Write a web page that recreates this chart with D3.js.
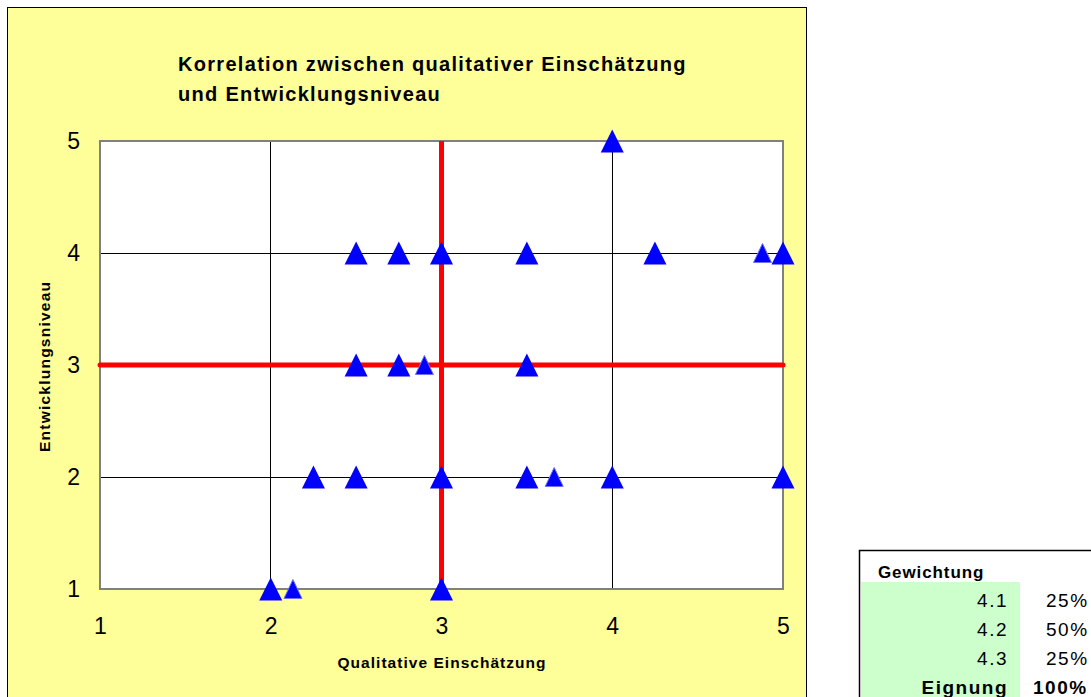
<!DOCTYPE html>
<html>
<head>
<meta charset="utf-8">
<script src="https://cdn.jsdelivr.net/npm/d3@7"></script>
<style>
  body { margin: 0; background: #fff; }
  svg { display: block; font-family: "Liberation Sans", Arial, sans-serif; }
</style>
</head>
<body>
<svg width="1091" height="697"></svg>
<script>
const svg = d3.select("svg");

// Data
const titleLines = ["Korrelation zwischen qualitativer Einschätzung", "und Entwicklungsniveau"];
const xLabel = "Qualitative Einschätzung";
const yLabel = "Entwicklungsniveau";
const ticks = [1, 2, 3, 4, 5];

// main series (big markers)
const qualX = [4, 2.5, 2.75, 3, 3.5, 4.25, 5, 2.5, 2.75, 3.5, 2.25, 2.5, 3, 3.5, 4, 5, 2, 3];
const levelY = [5, 4, 4, 4, 4, 4, 4, 3, 3, 3, 2, 2, 2, 2, 2, 2, 1, 1];
// second series (small markers)
const qualX2 = [4.88, 2.9, 3.66, 2.13];
const levelY2 = [4, 3, 2, 1];

// reference lines (averages)
const refX = 3;
const refY = 3;

// table
const weightRows = ["4.1", "4.2", "4.3"];
const weightVals = ["25%", "50%", "25%"];
const totalLabel = "Eignung";
const totalVal = "100%";

// Chart frame
svg.append("rect")
  .attr("x", 7.5).attr("y", 7.5)
  .attr("width", 799).attr("height", 700)
  .attr("fill", "#ffff99")
  .attr("stroke", "#000").attr("stroke-width", 1);

const x = d3.scaleLinear().domain([1, 5]).range([100, 783]);
const y = d3.scaleLinear().domain([1, 5]).range([589, 141]);

// plot area
svg.append("rect")
  .attr("x", x(1)).attr("y", y(5))
  .attr("width", x(5) - x(1)).attr("height", y(1) - y(5))
  .attr("fill", "#fff");

// gridlines
svg.append("g")
  .attr("shape-rendering", "crispEdges")
  .selectAll("line")
  .data(ticks.slice(1, -1))
  .join("line")
  .attr("x1", d => x(d)).attr("x2", d => x(d))
  .attr("y1", y(5)).attr("y2", y(1))
  .attr("stroke", "#000").attr("stroke-width", 1);

svg.append("g")
  .attr("shape-rendering", "crispEdges")
  .selectAll("line")
  .data(ticks.slice(1, -1))
  .join("line")
  .attr("x1", x(1)).attr("x2", x(5))
  .attr("y1", d => y(d)).attr("y2", d => y(d))
  .attr("stroke", "#000").attr("stroke-width", 1);

// plot border
svg.append("rect")
  .attr("x", x(1)).attr("y", y(5))
  .attr("width", x(5) - x(1)).attr("height", y(1) - y(5))
  .attr("fill", "none")
  .attr("stroke", "#808080").attr("stroke-width", 2);

// red reference lines
svg.append("line")
  .attr("x1", x(refX)).attr("x2", x(refX))
  .attr("y1", y(5)).attr("y2", y(1))
  .attr("stroke", "#ff0000").attr("stroke-width", 5);
svg.append("line")
  .attr("x1", x(1)).attr("x2", x(5))
  .attr("y1", y(refY)).attr("y2", y(refY))
  .attr("stroke", "#ff0000").attr("stroke-width", 5)
  .attr("stroke-linecap", "round");

// axes (labels only)
const xAxis = svg.append("g")
  .attr("transform", `translate(0,${y(1)})`)
  .call(d3.axisBottom(x).tickValues(ticks).tickFormat(d3.format("d")).tickSize(0).tickPadding(29));
xAxis.select(".domain").remove();
xAxis.selectAll("text").attr("font-size", 23).attr("fill", "#000")
  .attr("font-family", "Liberation Sans, Arial, sans-serif");

const yAxis = svg.append("g")
  .attr("transform", `translate(${x(1)},0)`)
  .call(d3.axisLeft(y).tickValues(ticks).tickFormat(d3.format("d")).tickSize(0).tickPadding(20));
yAxis.select(".domain").remove();
yAxis.selectAll("text").attr("font-size", 23).attr("fill", "#000")
  .attr("font-family", "Liberation Sans, Arial, sans-serif");

// markers: triangle a bit taller than equilateral
function triangle(w, h) {
  return {
    draw(ctx) {
      ctx.moveTo(0, -h / 2);
      ctx.lineTo(w / 2, h / 2);
      ctx.lineTo(-w / 2, h / 2);
      ctx.closePath();
    }
  };
}
const pts = qualX.map((v, i) => ({ x: v, y: levelY[i] }));
const pts2 = qualX2.map((v, i) => ({ x: v, y: levelY2[i] }));

svg.append("g")
  .selectAll("path")
  .data(pts)
  .join("path")
  .attr("d", d3.symbol(triangle(23, 23))())
  .attr("transform", d => `translate(${x(d.x)},${y(d.y)})`)
  .attr("fill", "#0000ff");

svg.append("g")
  .selectAll("path")
  .data(pts2)
  .join("path")
  .attr("d", d3.symbol(triangle(18, 19))())
  .attr("transform", d => `translate(${x(d.x)},${y(d.y)})`)
  .attr("fill", "#0000ff")
  .attr("stroke", "#7070ff").attr("stroke-width", 1);

// title
svg.append("text")
  .attr("font-size", 20).attr("font-weight", "bold")
  .selectAll("tspan")
  .data(titleLines)
  .join("tspan")
  .attr("x", 178)
  .attr("y", (d, i) => 71 + i * 30)
  .attr("letter-spacing", 1.3)
  .text(d => d);

// axis titles
svg.append("text")
  .attr("x", (x(1) + x(5)) / 2).attr("y", 668)
  .attr("text-anchor", "middle")
  .attr("font-size", 15.5).attr("font-weight", "bold")
  .attr("textLength", 208)
  .text(xLabel);

svg.append("text")
  .attr("transform", `translate(50,${(y(1) + y(5)) / 2 + 2}) rotate(-90)`)
  .attr("text-anchor", "middle")
  .attr("font-size", 15.5).attr("font-weight", "bold")
  .attr("textLength", 170)
  .text(yLabel);

// table
const rowY = d3.scaleBand().domain(d3.range(weightRows.length + 1)).range([582, 698]);
const table = svg.append("g");
table.append("rect")
  .attr("x", 859.5).attr("y", 550.5)
  .attr("width", 300).attr("height", 200)
  .attr("fill", "#fff").attr("stroke", "#000").attr("stroke-width", 1.5);
table.append("rect")
  .attr("x", 861).attr("y", 582)
  .attr("width", 159).attr("height", 120)
  .attr("fill", "#ccffcc");
table.append("text")
  .attr("x", 878).attr("y", 578)
  .attr("font-size", 17).attr("font-weight", "bold")
  .attr("letter-spacing", 0.9)
  .text("Gewichtung");

const rows = weightRows.map((r, i) => ({ label: r, val: weightVals[i], bold: false }))
  .concat([{ label: totalLabel, val: totalVal, bold: true }]);

table.selectAll("text.lbl")
  .data(rows)
  .join("text")
  .attr("class", "lbl")
  .attr("x", 1008)
  .attr("y", (d, i) => rowY(i) + 25)
  .attr("text-anchor", "end")
  .attr("font-size", 19)
  .attr("letter-spacing", 1.5)
  .attr("font-weight", d => d.bold ? "bold" : "normal")
  .text(d => d.label);

table.selectAll("text.val")
  .data(rows)
  .join("text")
  .attr("class", "val")
  .attr("x", d => d.bold ? 1033 : 1046)
  .attr("y", (d, i) => rowY(i) + 25)
  .attr("font-size", 19)
  .attr("letter-spacing", 1.5)
  .attr("font-weight", d => d.bold ? "bold" : "normal")
  .text(d => d.val);
</script>
</body>
</html>
